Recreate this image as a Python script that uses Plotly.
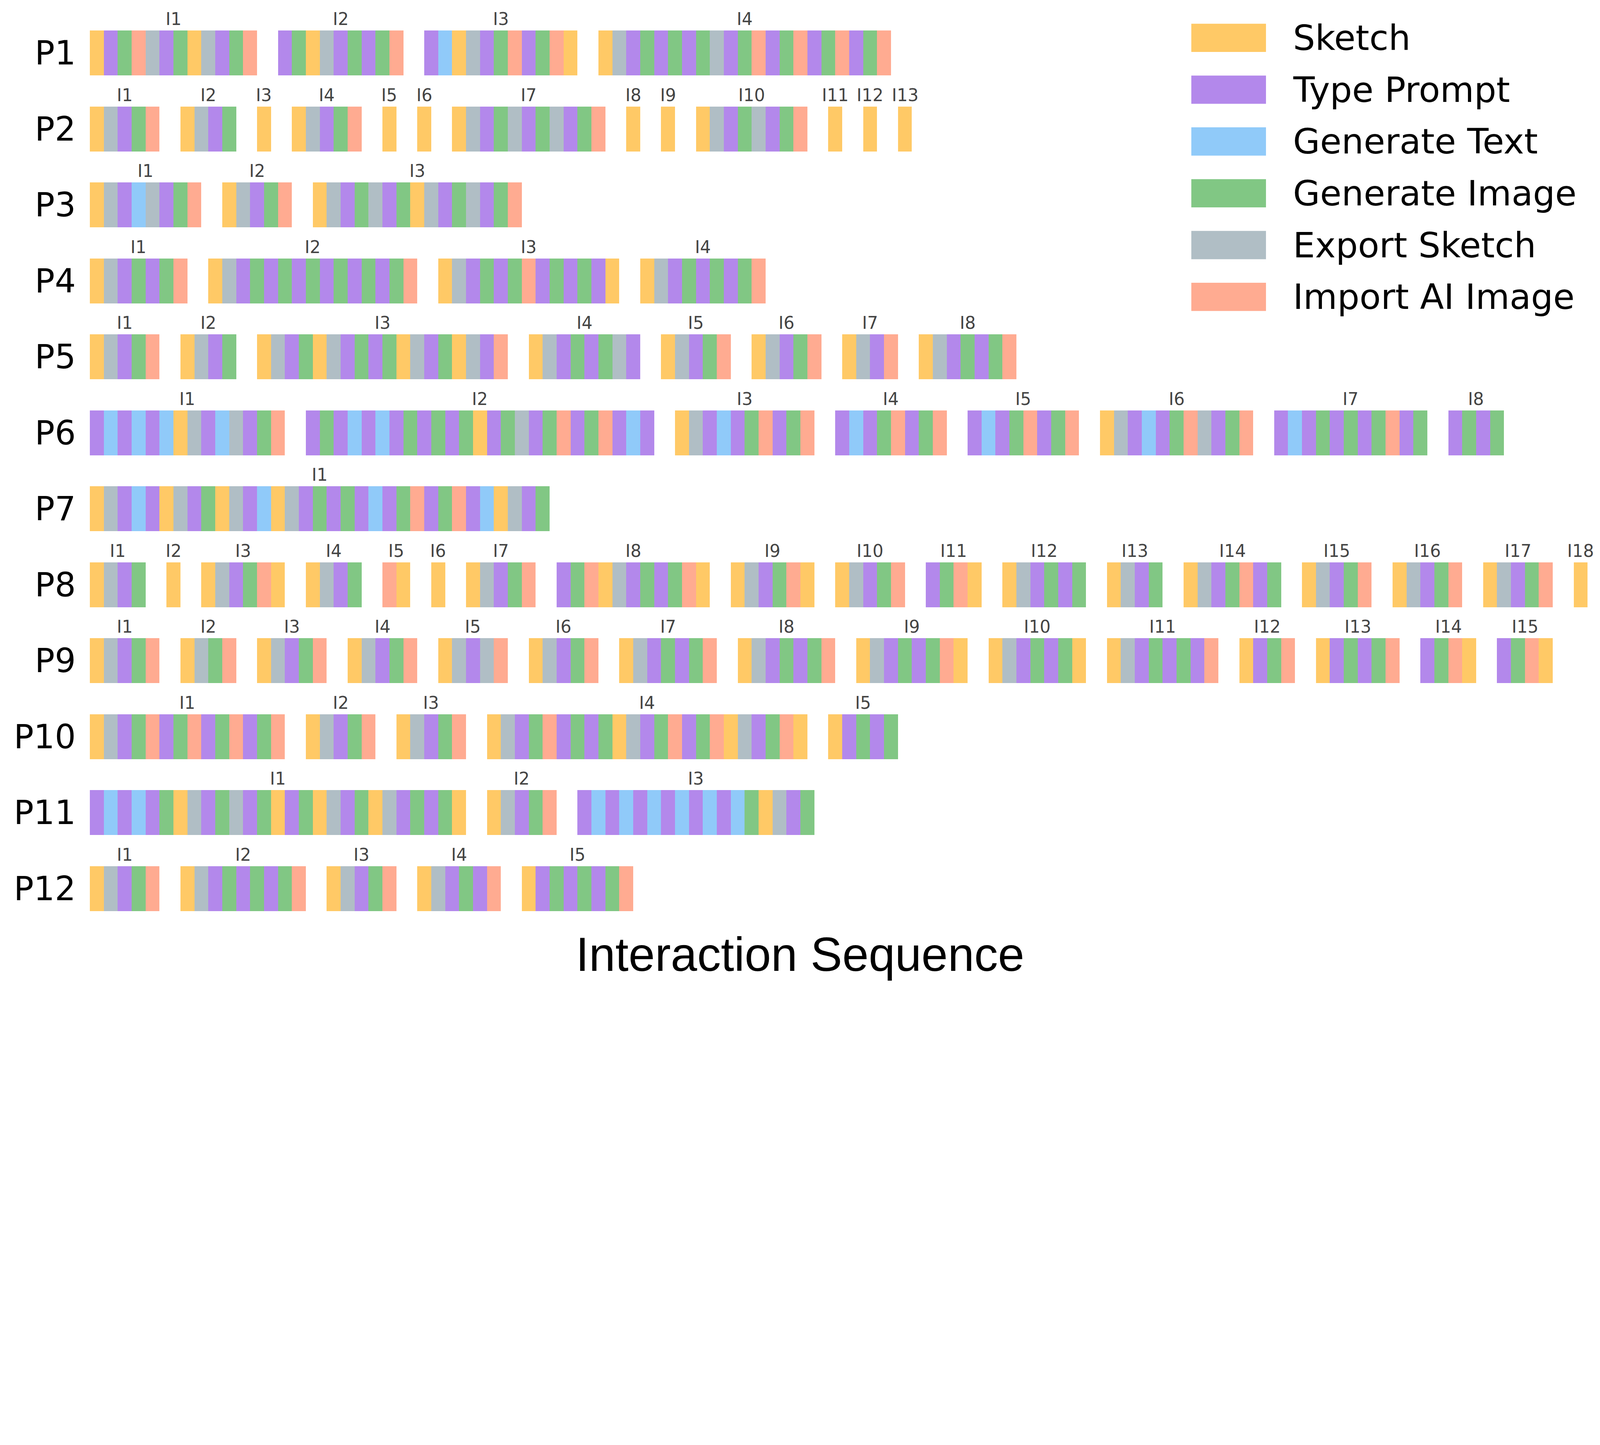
import plotly.graph_objects as go

# ---------------- data ----------------
CATEGORIES = ["Sketch", "Type Prompt", "Generate Text", "Generate Image", "Export Sketch", "Import AI Image"]
CODES = ["S", "P", "T", "G", "E", "I"]
COLORS = ["#FFC966", "#B388EB", "#90CAF9", "#81C784", "#B0BEC5", "#FFAB91"]

PARTICIPANTS = ["P1", "P2", "P3", "P4", "P5", "P6", "P7", "P8", "P9", "P10", "P11", "P12"]

SEQ_P1 = ["SPGIEPGSEPGI", "PGSEPGPGI", "PTSEPGIPGIS", "SEPGPGPGEPGIPGIPGIPGI"]
SEQ_P2 = ["SEPGI", "SEPG", "S", "SEPGI", "S", "S", "SEPGEPGEPGI", "S", "S", "SEPGEPGI", "S", "S", "S"]
SEQ_P3 = ["SEPTEPGI", "SEPGI", "SEPGEPGSEPGEPGI"]
SEQ_P4 = ["SEPGPGI", "SEPGPGPGPGPGPGI", "SEPGPGIPGPGPS", "SEPGPGPGI"]
SEQ_P5 = ["SEPGI", "SEPG", "SEPGSEPGPGSEPGSEPI", "SEPGPGEP", "SEPGI", "SEPGI", "SEPI", "SEPGPGI"]
SEQ_P6 = ["PTPTPTSEPTEPGI", "PGPTPTPGPGPGSPGEPGIPGIPTP", "SEPTPGIPGI", "PTPGIPGI",
          "PTPGIPGI", "SEPTPGIEPGI", "PTPGPGPGIPG", "PGPG"]
SEQ_P7 = ["SEPTPSEPGSEPTSEPGPGPTPGIPGIPTSEPG"]
SEQ_P8 = ["SEPG", "S", "SEPGIS", "SEPG", "IS", "S", "SEPGI", "PGISEPGPGIS", "SEPGIS", "SEPGI",
          "PGIS", "SEPGPG", "SEPG", "SEPGIPG", "SEPGI", "SEPGI", "SEPGI", "S"]
SEQ_P9 = ["SEPGI", "SEGI", "SEPGI", "SEPGI", "SEPEI", "SEPGI", "SEPGPGI", "SEPGPGI", "SEPGPGIS",
          "SEPGPGS", "SEPGPGPI", "SPGI", "SPGPGI", "PGIS", "PGIS"]
SEQ_P10 = ["SEPGIPGIPGIPGI", "SEPGI", "SEPGI", "SEPGIPGPGSEPGIPGISEPGIS", "SPGPG"]
SEQ_P11 = ["PTPTPGSEPGEPGSPGSEPGSEPGPGS", "SEPGI", "PTPTPTPTPTPTGSEPG"]
SEQ_P12 = ["SEPGI", "SEPGPGPGI", "SEPGI", "SEPGPI", "SPGPGPGI"]

SEQUENCES = [SEQ_P1, SEQ_P2, SEQ_P3, SEQ_P4, SEQ_P5, SEQ_P6,
             SEQ_P7, SEQ_P8, SEQ_P9, SEQ_P10, SEQ_P11, SEQ_P12]

# ---------------- layout helpers ----------------
# design numbers below are in screenshot pixels (6000 x 3700); the page is
# laid out in CSS pixels, 4096 CSS px across the window, body margin 8 px.
S = 4096.0 / 6000.0
OFF = 8.0
FW, FH = 4080, 2510


def dev(p):
    return p * S - OFF


X_MAX = 108.0
UNIT_X = 52.24 * S
UNIT_Y = 284.9 * S
L = dev(337)
PW = X_MAX * UNIT_X
R = FW - L - PW
T = 0.0
Y_TOP = 1 - (dev(199) - T) / UNIT_Y
Y_BOT = 12.6
PH = (Y_BOT - Y_TOP) * UNIT_Y
B = FH - T - PH
GAP = 1.5
BAR_H = 0.59


def px_x(p):
    return (dev(p) - L) / PW


def px_y(p):
    return 1 - (dev(p) - T) / PH


# ---------------- build bars ----------------
bars = {c: {"base": [], "y": []} for c in CODES}
labels = []
for r, seqs in enumerate(SEQUENCES):
    row = r + 1
    pos = 0.0
    for k, s in enumerate(seqs):
        start = pos
        for ch in s:
            bars[ch]["base"].append(pos)
            bars[ch]["y"].append(row)
            pos += 1
        labels.append((start + len(s) / 2.0, row, "I%d" % (k + 1)))
        pos += GAP

fig = go.Figure()
for name, code, col in zip(CATEGORIES, CODES, COLORS):
    d = bars[code]
    fig.add_trace(go.Bar(
        orientation="h",
        x=[1] * len(d["base"]),
        base=d["base"],
        y=d["y"],
        width=BAR_H,
        name=name,
        marker=dict(color=col, line=dict(width=0)),
        showlegend=False,
        hoverinfo="skip",
    ))

annotations = []
for xc, row, txt in labels:
    annotations.append(dict(
        x=xc, y=row - BAR_H / 2 - 0.012, xref="x", yref="y", text=txt,
        showarrow=False, xanchor="center", yanchor="bottom",
        font=dict(family="DejaVu Sans", size=64 * S, color="#444444"),
    ))

# manual legend (positions in screenshot pixels)
leg_box_x0, leg_box_x1 = 4467, 4747
leg_text_x = 4845
leg_y0, leg_dy, leg_h = 142, 194.3, 106
shapes = []
for i, (name, col) in enumerate(zip(CATEGORIES, COLORS)):
    cy = leg_y0 + i * leg_dy
    shapes.append(dict(
        type="rect", xref="paper", yref="paper",
        x0=px_x(leg_box_x0), x1=px_x(leg_box_x1),
        y0=px_y(cy + leg_h / 2), y1=px_y(cy - leg_h / 2),
        fillcolor=col, line=dict(width=0),
    ))
    annotations.append(dict(
        x=px_x(leg_text_x), y=px_y(cy), xref="paper", yref="paper", text=name,
        showarrow=False, xanchor="left", yanchor="middle",
        font=dict(family="DejaVu Sans", size=131 * S, color="#000000"),
    ))

# x-axis title
annotations.append(dict(
    x=px_x(3000), y=px_y(3580), xref="paper", yref="paper",
    text="Interaction Sequence", showarrow=False,
    xanchor="center", yanchor="middle",
    font=dict(family="Liberation Sans", size=178 * S, color="#000000"),
))

fig.update_layout(
    width=FW, height=FH,
    margin=dict(l=L, r=R, t=T, b=B, pad=0, autoexpand=False),
    paper_bgcolor="white", plot_bgcolor="white",
    barmode="overlay",
    bargap=0,
    showlegend=False,
    annotations=annotations,
    shapes=shapes,
    xaxis=dict(range=[0, X_MAX], visible=False, fixedrange=True),
    yaxis=dict(
        range=[Y_BOT, Y_TOP],
        tickvals=list(range(1, len(PARTICIPANTS) + 1)),
        ticktext=PARTICIPANTS,
        tickfont=dict(family="DejaVu Sans", size=124 * S, color="#000000"),
        showgrid=False, zeroline=False, showline=False, ticks="",
        ticklabelstandoff=int(round(52 * S)),
        automargin=False,
        fixedrange=True,
    ),
)

fig.write_html("out.html")
